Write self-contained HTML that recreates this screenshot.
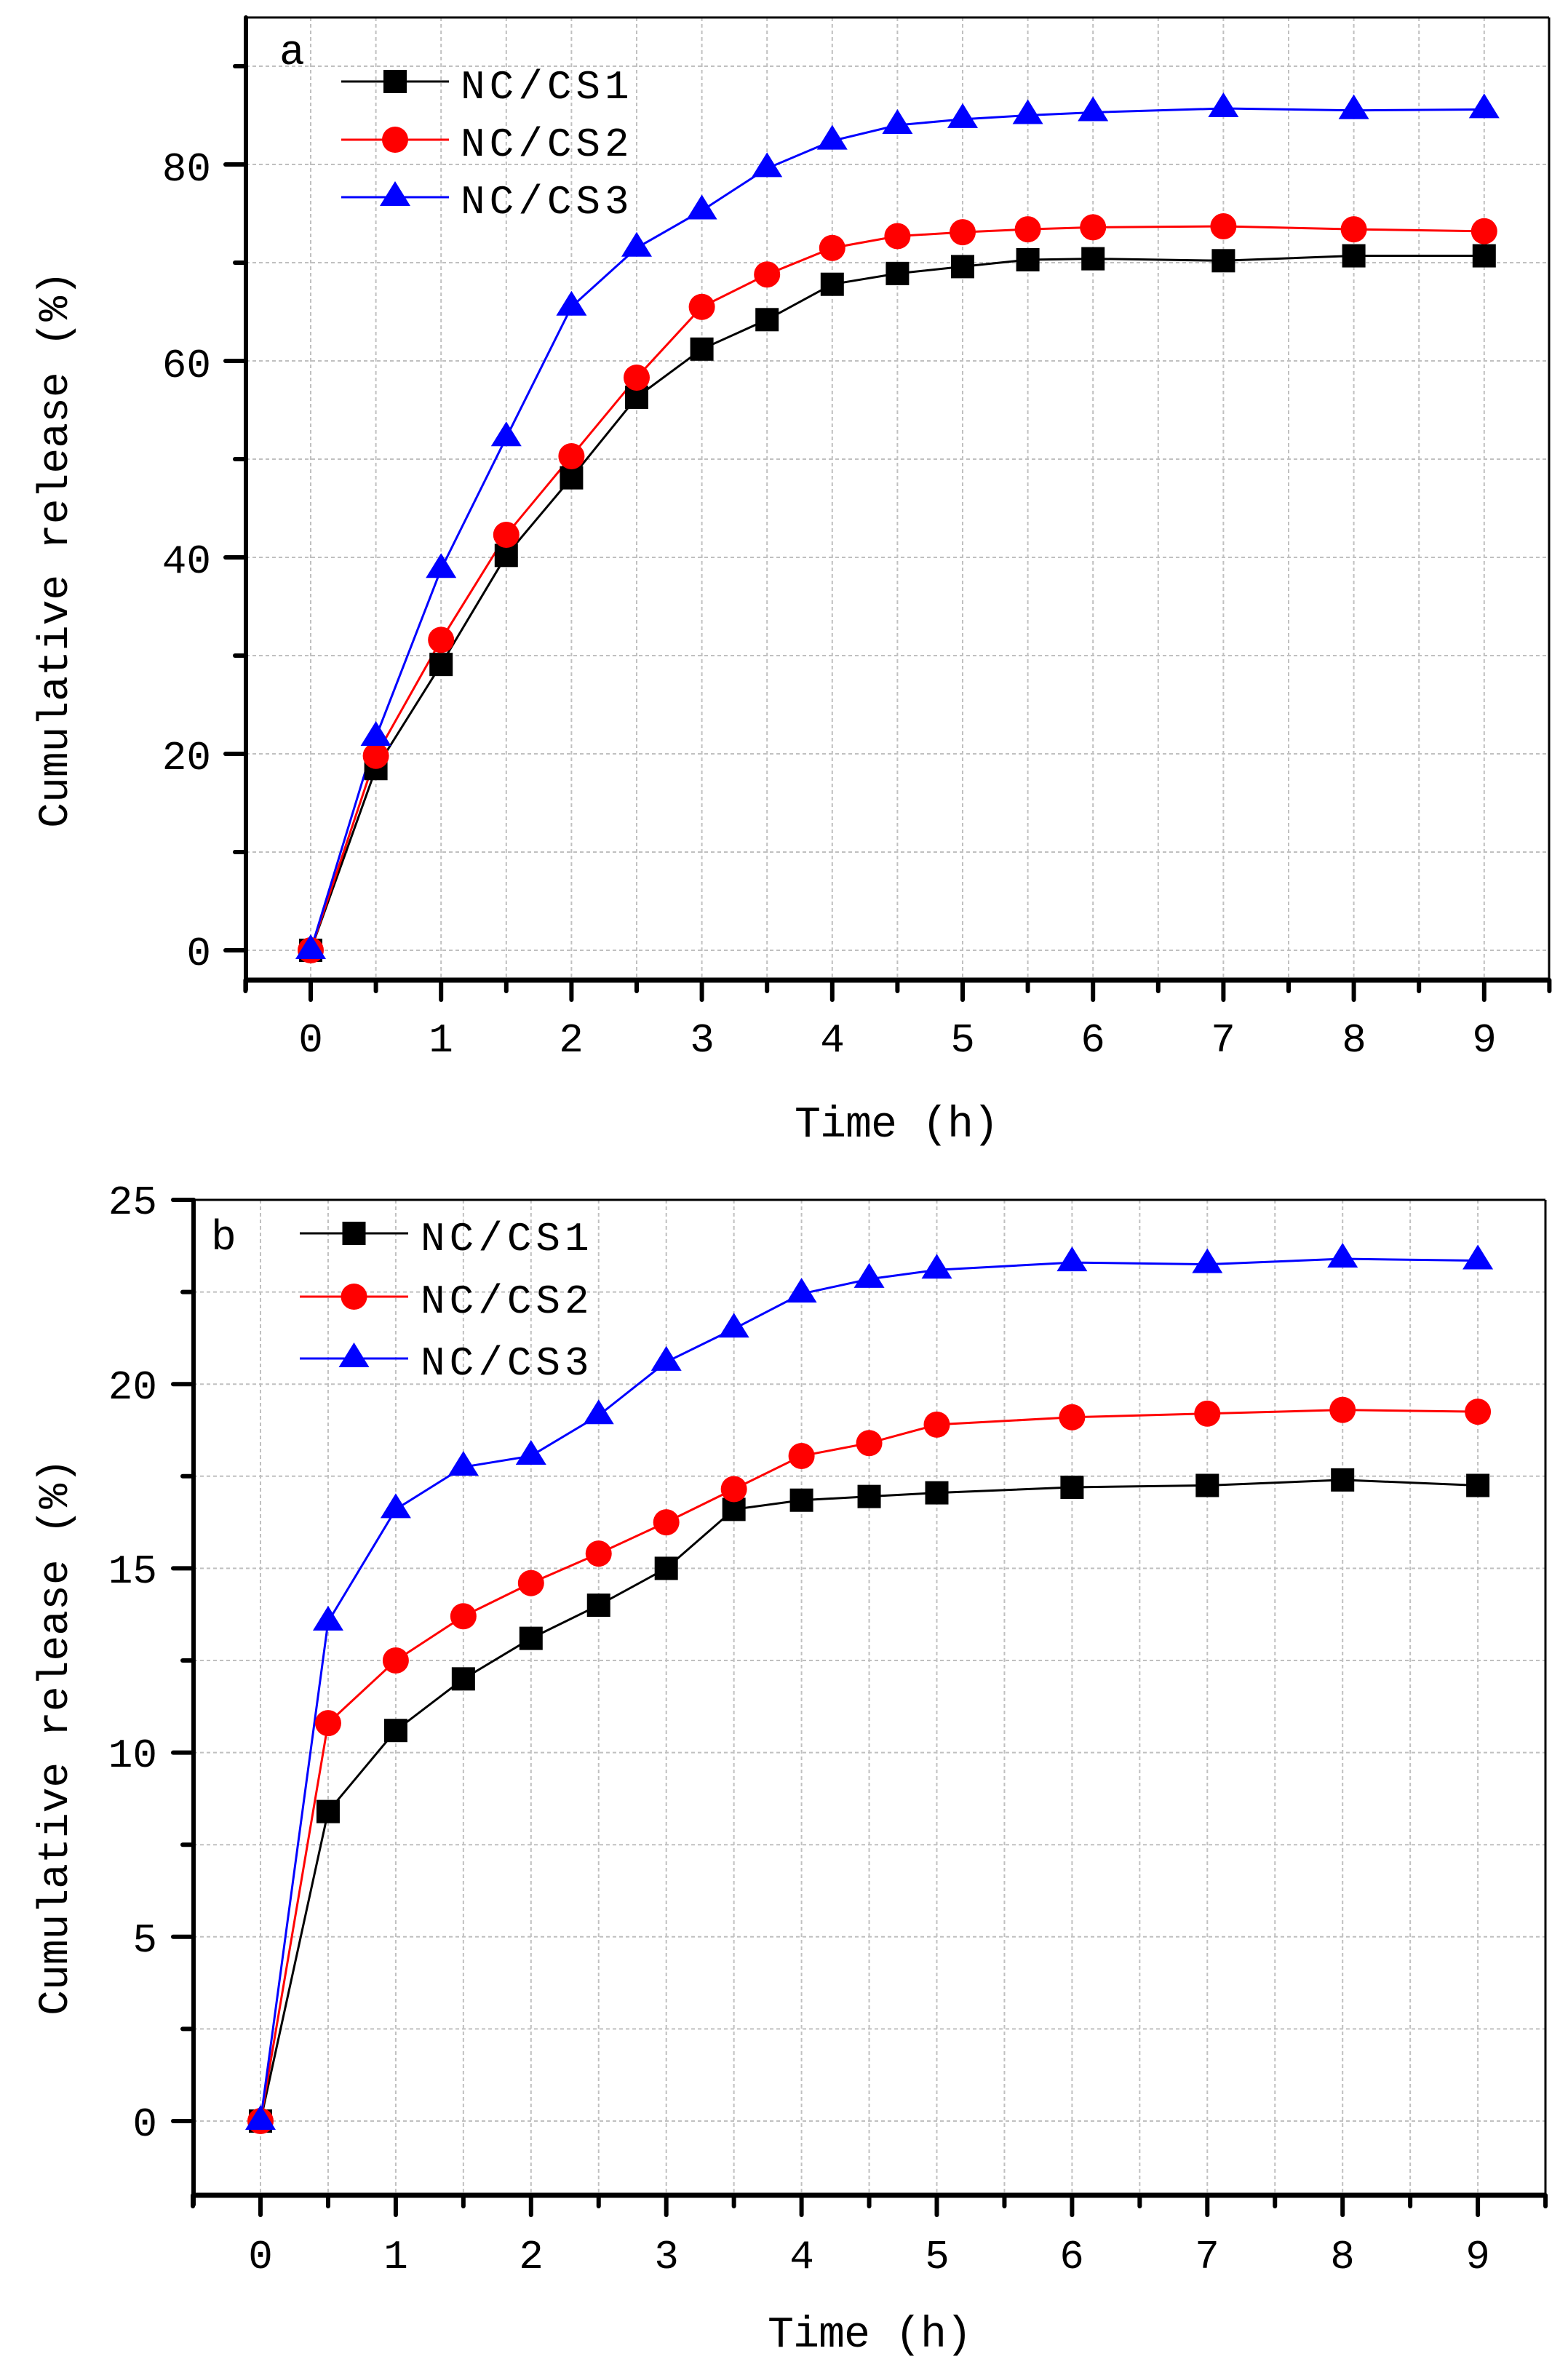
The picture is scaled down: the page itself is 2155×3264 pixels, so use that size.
<!DOCTYPE html>
<html><head><meta charset="utf-8"><style>
html,body{margin:0;padding:0;background:#fff}
svg text{font-family:"Liberation Mono","DejaVu Sans Mono",monospace;fill:#000}
</style></head><body>
<svg id="s" width="2155" height="3259" viewBox="0 0 2155 3259" xmlns="http://www.w3.org/2000/svg">
<rect width="2155" height="3259" fill="#fff"/>
<g id="ga"></g><g id="gb"></g>
<g font-size="56" text-anchor="end">
<text x="290" y="1326">0</text><text x="290" y="1057">20</text><text x="290" y="787">40</text><text x="290" y="518">60</text><text x="290" y="248">80</text>
</g>
<text x="1232" y="1562" font-size="60" text-anchor="middle" letter-spacing="-1">Time (h)</text>
<text transform="translate(92,755) rotate(-90)" font-size="58" text-anchor="middle" letter-spacing="0">Cumulative release (%)</text>
<text x="384" y="88" font-size="58">a</text>
<g font-size="56" letter-spacing="6">
<text x="633" y="135">NC/CS1</text><text x="633" y="214">NC/CS2</text><text x="633" y="293">NC/CS3</text>
</g>
<g font-size="56" text-anchor="end">
<text x="216" y="2935">0</text><text x="216" y="2682">5</text><text x="216" y="2428">10</text><text x="216" y="2175">15</text><text x="216" y="1922">20</text><text x="216" y="1668">25</text>
</g>
<text x="1195" y="3225" font-size="60" text-anchor="middle" letter-spacing="-1">Time (h)</text>
<text transform="translate(92,2387) rotate(-90)" font-size="58" text-anchor="middle" letter-spacing="0">Cumulative release (%)</text>
<text x="290" y="1717" font-size="58">b</text>
<g font-size="56" letter-spacing="6">
<text x="578" y="1718">NC/CS1</text><text x="578" y="1804">NC/CS2</text><text x="578" y="1889">NC/CS3</text>
</g>
<g font-size="56" text-anchor="middle">
<text x="427" y="1445">0</text><text x="606" y="1445">1</text><text x="785" y="1445">2</text><text x="965" y="1445">3</text><text x="1144" y="1445">4</text><text x="1323" y="1445">5</text><text x="1502" y="1445">6</text><text x="1681" y="1445">7</text><text x="1861" y="1445">8</text><text x="2040" y="1445">9</text>
<text x="358" y="3117">0</text><text x="544" y="3117">1</text><text x="730" y="3117">2</text><text x="916" y="3117">3</text><text x="1102" y="3117">4</text><text x="1288" y="3117">5</text><text x="1473" y="3117">6</text><text x="1659" y="3117">7</text><text x="1845" y="3117">8</text><text x="2031" y="3117">9</text>
</g>
</svg>
<script>
var NS="http://www.w3.org/2000/svg";
function el(p,t,a){var e=document.createElementNS(NS,t);for(var k in a)e.setAttribute(k,a[k]);p.appendChild(e);return e;}
function marker(g,k,x,y){
 if(k==0)el(g,"rect",{x:x-16,y:y-16,width:32,height:32,fill:"#000"});
 else if(k==1)el(g,"circle",{cx:x,cy:y,r:18,fill:"#f00"});
 else el(g,"polygon",{points:(x)+","+(y-22)+" "+(x-21)+","+(y+12)+" "+(x+21)+","+(y+12),fill:"#00f"});
}
var cols=["#000","#f00","#00f"];
function plot(g,P){
 var X=function(t){return P.x0+t*P.sx},Y=function(v){return P.y0-v*P.sy};
 for(var t=0;t<=9.01;t+=0.5)el(g,"line",{x1:X(t),x2:X(t),y1:P.top,y2:P.bot,stroke:"#c0c0c0","stroke-width":2,"stroke-dasharray":"5,4"});
 for(var i=0;i<P.ng;i++){var v=i*P.gs;el(g,"line",{x1:P.left,x2:P.right,y1:Y(v),y2:Y(v),stroke:"#c0c0c0","stroke-width":2,"stroke-dasharray":"5,4"});}
 el(g,"line",{x1:P.left,x2:P.right,y1:P.top,y2:P.top,stroke:"#000","stroke-width":3});
 el(g,"line",{x1:P.right,x2:P.right,y1:P.top,y2:P.bot,stroke:"#000","stroke-width":3});
 el(g,"line",{x1:P.left,x2:P.left,y1:P.top,y2:P.bot+13,stroke:"#000","stroke-width":6,"stroke-linecap":"round"});
 el(g,"line",{x1:P.left,x2:P.right,y1:P.bot,y2:P.bot,stroke:"#000","stroke-width":7});
 for(var t=-0.5;t<=9.51;t+=0.5){var maj=Math.abs(t-Math.round(t))<0.01;el(g,"line",{x1:X(t),x2:X(t),y1:P.bot,y2:P.bot+(maj?27:15),stroke:"#000","stroke-width":6,"stroke-linecap":"round"});}
 for(var i=0;i<P.nt;i++){var v=i*P.gs,maj=i%2==0;el(g,"line",{x1:P.left,x2:P.left-(maj?28:15),y1:Y(v),y2:Y(v),stroke:"#000","stroke-width":6,"stroke-linecap":"round"});}
 for(var s=0;s<3;s++){var pts=P.d[s].map(function(v,i){return X(P.t[i])+","+Y(v)}).join(" ");
  el(g,"polyline",{points:pts,fill:"none",stroke:cols[s],"stroke-width":3});}
 for(var s=0;s<3;s++)P.d[s].forEach(function(v,i){marker(g,s,X(P.t[i]),Y(v));});
 for(var s=0;s<3;s++){var ly=P.ly[s];el(g,"line",{x1:P.lx1,x2:P.lx2,y1:ly,y2:ly,stroke:cols[s],"stroke-width":3});marker(g,s,(P.lx1+P.lx2)/2,ly);}
}
plot(document.getElementById("ga"),{x0:427,sx:179.2,y0:1306,sy:13.5,top:24,bot:1347,left:338,right:2129,ng:10,gs:10,nt:10,
 t:[0,0.5,1,1.5,2,2.5,3,3.5,4,4.5,5,5.5,6,7,8,9],
 d:[[0,18.5,29.1,40.2,48.1,56.3,61.2,64.2,67.8,68.9,69.6,70.3,70.4,70.2,70.7,70.7],
    [0,19.8,31.6,42.3,50.3,58.3,65.5,68.8,71.5,72.7,73.1,73.4,73.6,73.7,73.4,73.2],
    [0,21.7,38.8,52.2,65.5,71.5,75.3,79.6,82.4,84.0,84.6,85.0,85.3,85.7,85.5,85.6]],
 lx1:469,lx2:617,ly:[112,192,271]});
plot(document.getElementById("gb"),{x0:358,sx:185.9,y0:2915,sy:50.64,top:1649,bot:3017,left:266,right:2124,ng:10,gs:2.5,nt:11,
 t:[0,0.5,1,1.5,2,2.5,3,3.5,4,4.5,5,6,7,8,9],
 d:[[0,8.4,10.6,12.0,13.1,14.0,15.0,16.6,16.85,16.95,17.05,17.2,17.25,17.4,17.25],
    [0,10.8,12.5,13.7,14.6,15.4,16.25,17.15,18.05,18.4,18.9,19.1,19.2,19.3,19.25],
    [0,13.55,16.6,17.75,18.05,19.15,20.6,21.5,22.45,22.85,23.1,23.3,23.25,23.4,23.35]],
 lx1:412,lx2:561,ly:[1695,1782,1867]});
</script>
</body></html>
